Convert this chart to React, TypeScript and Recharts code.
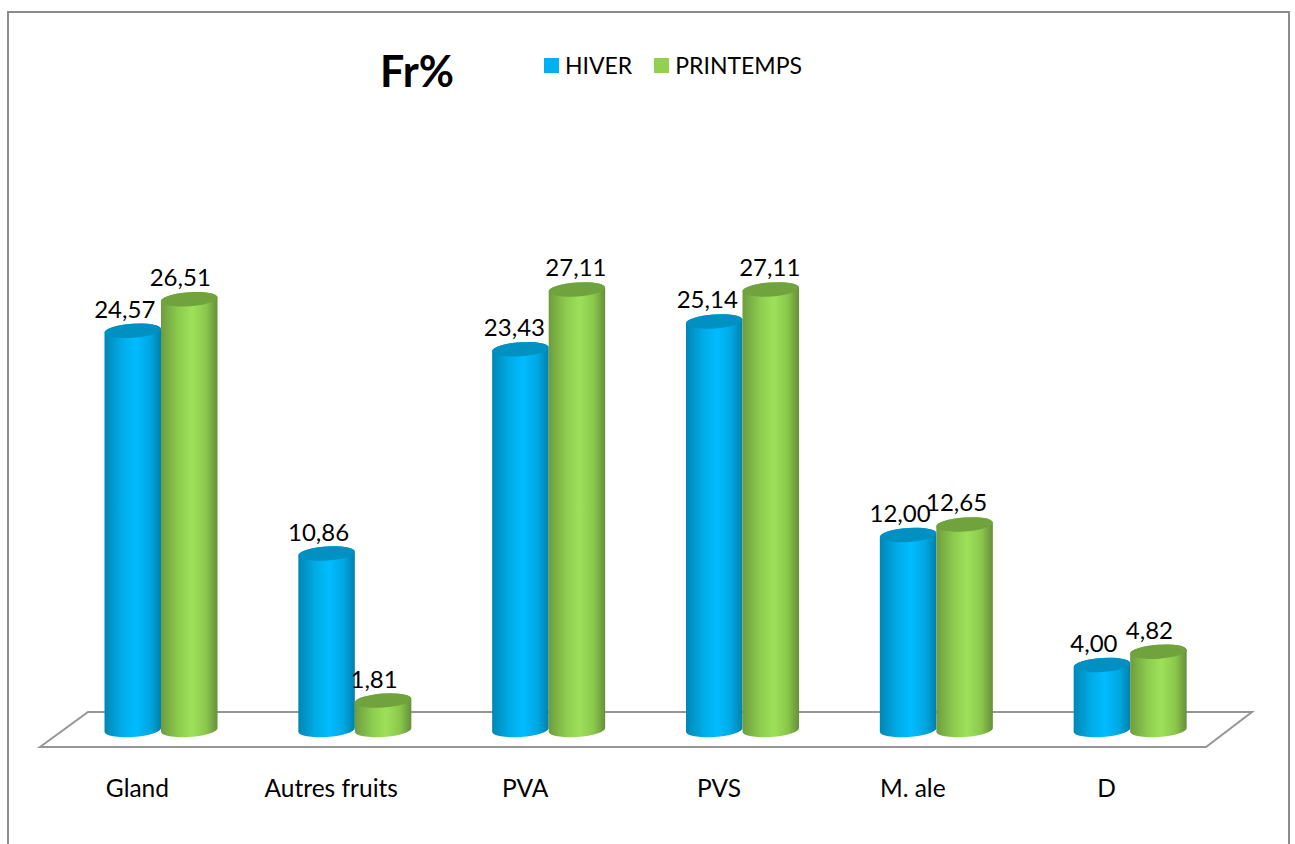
import { BarChart, Bar, XAxis, YAxis, Legend, LabelList } from 'recharts';

const categories = ['Gland', 'Autres fruits', 'PVA', 'PVS', 'M. ale', 'D'];
const hiver = [24.57, 10.86, 23.43, 25.14, 12.0, 4.0];
const printemps = [26.51, 1.81, 27.11, 27.11, 12.65, 4.82];

// sideways shift of the value labels, they are not all placed alike in the original
const hiverLabelShift = [-8, -8, -6, -7, -8, -8];
const printempsLabelShift = [-9, -9, -1, -1, -8, -9];

const data = categories.map((name, i) => ({ name, hiver: hiver[i], printemps: printemps[i] }));

const FONT = 'Lato, "Open Sans", sans-serif';

// cylinder drawn from the rectangle the library hands over
function Cylinder(props: any) {
  const { x, y, width, height, gradient, topColor } = props;
  const rx = width / 2;
  const ry = 7;
  const tilt = 2;
  const base = y + height;
  const body =
    `M${x},${y + tilt} L${x},${base + tilt} ` +
    `A${rx},${ry} -4 0 0 ${x + width},${base - tilt} ` +
    `L${x + width},${y - tilt} ` +
    `A${rx},${ry} -4 0 0 ${x},${y + tilt} Z`;
  return (
    <g>
      <path d={body} fill={`url(#${gradient})`} />
      <ellipse cx={x + rx} cy={y} rx={rx} ry={ry} fill={topColor} transform={`rotate(-4 ${x + rx} ${y})`} />
    </g>
  );
}

function ValueLabel(props: any) {
  const { x, y, width, value, index, shifts } = props;
  return (
    <text x={x + width / 2 + shifts[index]} y={y - 13} textAnchor="middle" fontFamily={FONT} fontSize={24} fill="#000">
      {Number(value).toFixed(2).replace('.', ',')}
    </text>
  );
}

function CategoryTick(props: any) {
  const { x, payload } = props;
  return (
    <text x={x - 24} y={797} textAnchor="middle" fontFamily={FONT} fontSize={24.5} fill="#000">
      {payload.value}
    </text>
  );
}

function LegendRow(props: any) {
  return (
    <div style={{ display: 'flex', fontFamily: FONT, fontSize: 23, color: '#000', lineHeight: '28px' }}>
      {props.payload.map((item: any) => (
        <div key={item.value} style={{ display: 'flex', alignItems: 'center', marginRight: 22 }}>
          <span style={{ width: 15, height: 15, background: item.color, marginRight: 6 }} />
          {item.value}
        </div>
      ))}
    </div>
  );
}

export default function App() {
  return (
    <div style={{ position: 'absolute', left: 0, top: 0, width: 1295, height: 844, overflow: 'hidden', background: '#fff' }}>
      <div style={{ position: 'absolute', left: 7, top: 11, width: 1279, height: 900, border: '2px solid #8c8c8c' }} />
      <div style={{ position: 'absolute', left: 0, top: 0 }}>
        <BarChart
          width={1295}
          height={844}
          data={data}
          barSize={56.5}
          barGap={0}
          margin={{ top: 242.5, right: 67.5, bottom: 84, left: 64.5 }}
        >
          <defs>
            <linearGradient id="blueCyl" x1="0" y1="0" x2="1" y2="0">
              <stop offset="0" stopColor="#0086B4" />
              <stop offset="0.3" stopColor="#00ACE6" />
              <stop offset="0.55" stopColor="#00BCFF" />
              <stop offset="0.8" stopColor="#00A8E2" />
              <stop offset="1" stopColor="#0080AC" />
            </linearGradient>
            <linearGradient id="greenCyl" x1="0" y1="0" x2="1" y2="0">
              <stop offset="0" stopColor="#6E9C3E" />
              <stop offset="0.3" stopColor="#8CCB4E" />
              <stop offset="0.55" stopColor="#9EE05A" />
              <stop offset="0.8" stopColor="#8AC74C" />
              <stop offset="1" stopColor="#668F3A" />
            </linearGradient>
          </defs>
          <polygon points="40,747 88,712 1252,712 1206,747" fill="#fff" stroke="#969696" strokeWidth={2} />
          <text x={417} y={87} textAnchor="middle" fontFamily={FONT} fontSize={43} fontWeight={700} fill="#000">
            Fr%
          </text>
          <XAxis dataKey="name" axisLine={false} tickLine={false} tick={<CategoryTick />} interval={0} />
          <YAxis hide domain={[0, 30]} />
          <Legend
            layout="horizontal"
            verticalAlign="middle"
            align="center"
            content={<LegendRow />}
            wrapperStyle={{ position: 'absolute', left: 544, top: 51, width: 320, height: 28 }}
          />
          <Bar
            dataKey="hiver"
            name="HIVER"
            fill="#00B0F0"
            isAnimationActive={false}
            shape={<Cylinder gradient="blueCyl" topColor="#0090C2" />}
          >
            <LabelList dataKey="hiver" content={<ValueLabel shifts={hiverLabelShift} />} />
          </Bar>
          <Bar
            dataKey="printemps"
            name="PRINTEMPS"
            fill="#92D050"
            isAnimationActive={false}
            shape={<Cylinder gradient="greenCyl" topColor="#70A23E" />}
          >
            <LabelList dataKey="printemps" content={<ValueLabel shifts={printempsLabelShift} />} />
          </Bar>
        </BarChart>
      </div>
    </div>
  );
}
